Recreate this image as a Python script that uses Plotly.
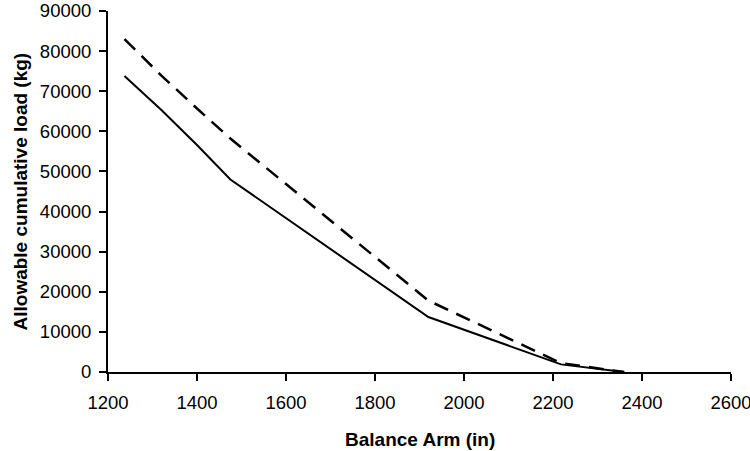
import plotly.graph_objects as go

balance_arm = [1237, 1320, 1400, 1475, 1920, 2218, 2360]
load_solid = [73800, 65300, 56600, 48000, 13700, 1900, 0]
load_dashed = [83000, 73900, 65700, 58200, 17800, 2200, 0]

x_ticks = [1200, 1400, 1600, 1800, 2000, 2200, 2400, 2600]
y_ticks = [0, 10000, 20000, 30000, 40000, 50000, 60000, 70000, 80000, 90000]

font_family = "Liberation Sans, Arial, sans-serif"

fig = go.Figure()
fig.add_trace(go.Scatter(x=balance_arm, y=load_solid, mode="lines",
                         line=dict(color="black", width=2), showlegend=False,
                         cliponaxis=False))
fig.add_trace(go.Scatter(x=balance_arm, y=load_dashed, mode="lines",
                         line=dict(color="black", width=2.5, dash="15px,9px"),
                         showlegend=False, cliponaxis=False))

axis_common = dict(showgrid=False, zeroline=False, showline=True, linecolor="black",
                   linewidth=2, ticks="outside", ticklen=7, tickwidth=2, automargin=False,
                   ticklabeloverflow="allow",
                   tickcolor="black", tickfont=dict(family=font_family, size=18.5, color="black"))

fig.update_xaxes(range=[1200, 2600], tickvals=x_ticks, ticktext=[str(v) for v in x_ticks],
                 ticklabelstandoff=6, **axis_common)
fig.update_yaxes(range=[0, 90000], tickvals=y_ticks, ticktext=[str(v) for v in y_ticks],
                 ticklabelstandoff=4, **axis_common)

fig.add_annotation(text="<b>Balance Arm (in)</b>", xref="paper", yref="paper",
                   x=0.5, y=0, yshift=-67, xanchor="center", yanchor="middle",
                   showarrow=False, font=dict(family=font_family, size=19, color="black"))
fig.add_annotation(text="<b>Allowable cumulative load (kg)</b>", xref="paper", yref="paper",
                   x=0, y=0.5, xshift=-88, xanchor="center", yanchor="middle", textangle=-90,
                   showarrow=False, font=dict(family=font_family, size=19, color="black"))

fig.update_layout(width=750, height=451, margin=dict(l=108, r=19, t=11, b=79),
                  paper_bgcolor="white", plot_bgcolor="white")

fig.write_html("out.html", config={"displayModeBar": False},
               post_script="document.body.style.margin='0';document.body.style.overflow='hidden';")
